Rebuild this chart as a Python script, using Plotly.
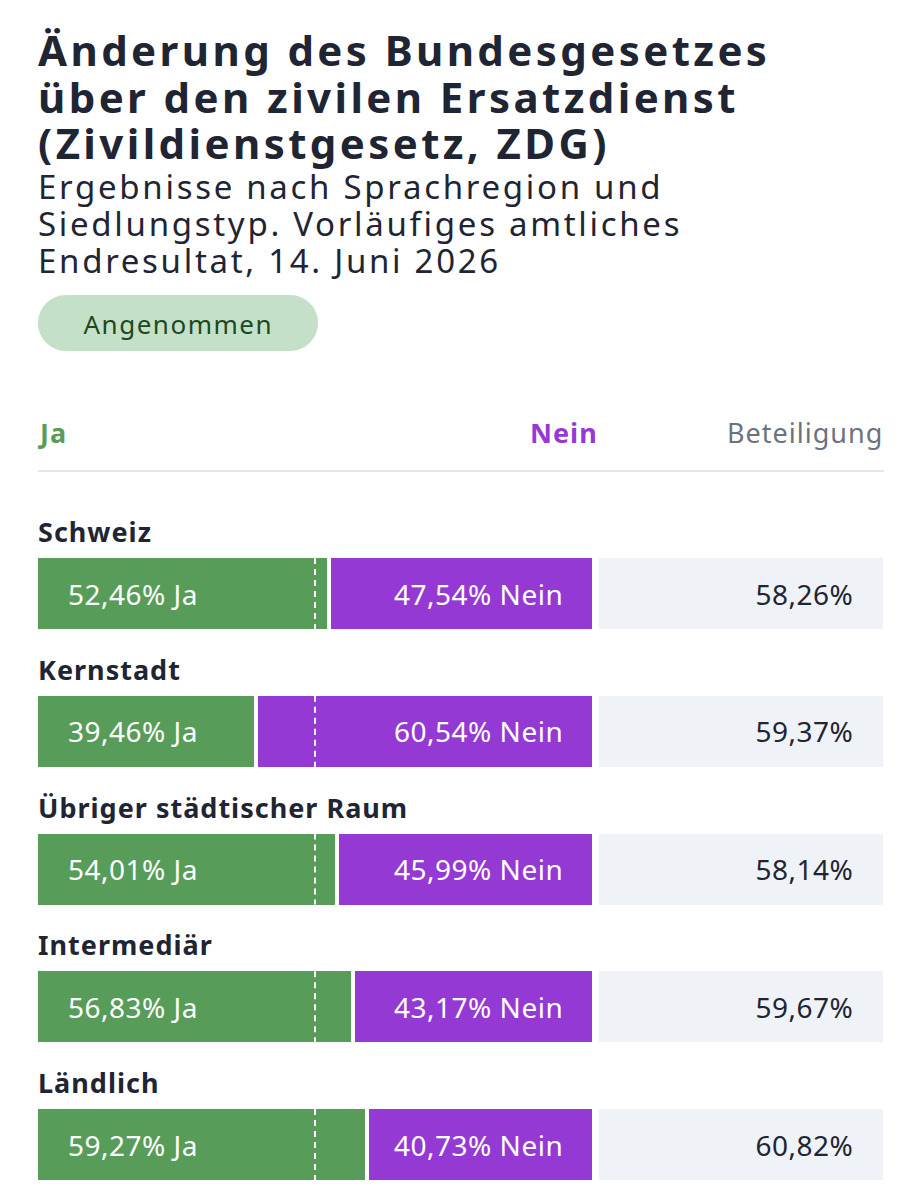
import json
import plotly.graph_objects as go

# Abstimmungsresultate nach Siedlungstyp
regions = ["Schweiz", "Kernstadt", "Übriger städtischer Raum", "Intermediär", "Ländlich"]
ja = [52.46, 39.46, 54.01, 56.83, 59.27]
nein = [47.54, 60.54, 45.99, 43.17, 40.73]
beteiligung = [58.26, 59.37, 58.14, 59.67, 60.82]

title_lines = ["Änderung des Bundesgesetzes", "über den zivilen Ersatzdienst", "(Zivildienstgesetz, ZDG)"]
subtitle_lines = ["Ergebnisse nach Sprachregion und", "Siedlungstyp. Vorläufiges amtliches", "Endresultat, 14. Juni 2026"]

W, H = 922, 1200
GREEN = "#579c59"
PURPLE = "#9539d5"
DARK = "#1f2533"
FONT = "Noto Sans"


def px(x):
    return x / W


def py(y):
    return 1 - y / H


def fmt(v):
    return f"{v:.2f}".replace(".", ",") + "%"


# rows: 137.75 px apart, first bar centred at y=593.5
pitch = 137.75
top_px = 490
y_top = -(593.5 - top_px) / pitch
y_bot = y_top + (H - top_px) / pitch

rows = list(range(len(regions)))

fig = go.Figure()
fig.add_trace(go.Bar(y=rows, x=ja, orientation="h", width=75 / pitch,
                     marker=dict(color=GREEN, line=dict(color="white", width=4)),
                     xaxis="x", yaxis="y", hoverinfo="skip"))
fig.add_trace(go.Bar(y=rows, x=nein, orientation="h", width=75 / pitch,
                     marker=dict(color=PURPLE, line=dict(color="white", width=4)),
                     xaxis="x", yaxis="y", hoverinfo="skip"))
fig.add_trace(go.Bar(y=rows, x=[100] * len(rows), orientation="h", width=71 / pitch,
                     marker=dict(color="#eff2f6", line=dict(width=0)),
                     xaxis="x2", yaxis="y", hoverinfo="skip"))

annotations = []
spacing = []  # letter spacing per annotation (px)


def note(spc, **kw):
    kw.setdefault("showarrow", False)
    kw.setdefault("yanchor", "middle")
    annotations.append(kw)
    spacing.append(spc)


for i, line in enumerate(title_lines):
    note(3.4, text=line, x=px(36), y=py(50 + i * 46.5), xref="paper", yref="paper", xanchor="left",
         font=dict(family=FONT, size=42, color=DARK, weight="bold"))
for i, line in enumerate(subtitle_lines):
    note(2.7, text=line, x=px(36), y=py(187 + i * 36.5), xref="paper", yref="paper", xanchor="left",
         font=dict(family=FONT, size=33, color=DARK))

note(1.5, text="Angenommen", x=px(178), y=py(324), xref="paper", yref="paper", xanchor="center",
     font=dict(family=FONT, size=26, color="#1c4a20"))

# header
note(1, text="<b>Ja</b>", x=px(36), y=py(432), xref="paper", yref="paper", xanchor="left",
     font=dict(family=FONT, size=27, color=GREEN))
note(1, text="<b>Nein</b>", x=px(599), y=py(432), xref="paper", yref="paper", xanchor="right",
     font=dict(family=FONT, size=27, color=PURPLE))
note(1, text="Beteiligung", x=px(884), y=py(432), xref="paper", yref="paper", xanchor="right",
     font=dict(family=FONT, size=27, color="#6b7280"))

for i, name in enumerate(regions):
    note(1, text=f"<b>{name}</b>", x=px(36), y=i, xref="paper", yref="y", xanchor="left", yshift=62,
         font=dict(family=FONT, size=27, color=DARK))
    note(0.5, text=f"{fmt(ja[i])} Ja", x=0, y=i, xref="x", yref="y", xanchor="left", xshift=30,
         font=dict(family=FONT, size=28, color="white"))
    note(0.5, text=f"{fmt(nein[i])} Nein", x=100, y=i, xref="x", yref="y", xanchor="right", xshift=-29,
         font=dict(family=FONT, size=28, color="white"))
    note(0.5, text=fmt(beteiligung[i]), x=100, y=i, xref="x2", yref="y", xanchor="right", xshift=-28,
         font=dict(family=FONT, size=28, color=DARK))

shapes = []
# 50%-Marke
for i in rows:
    shapes.append(dict(type="line", xref="x", yref="y", x0=50, x1=50,
                       y0=i - 71 / pitch / 2, y1=i + 71 / pitch / 2,
                       line=dict(color="white", width=2, dash="6px,5px"), layer="above"))

# header rule
shapes.append(dict(type="line", xref="paper", yref="paper", x0=px(38), x1=px(884),
                   y0=py(471), y1=py(471), line=dict(color="#e4e7ec", width=2)))


# pill badge "Angenommen"
def pill(x0, y0, x1, y1):
    r = (y1 - y0) / 2
    k = 0.5523 * r
    pts = [
        ("M", [(x0 + r, y0)]),
        ("L", [(x1 - r, y0)]),
        ("C", [(x1 - r + k, y0), (x1, y0 + r - k), (x1, y0 + r)]),
        ("C", [(x1, y0 + r + k), (x1 - r + k, y1), (x1 - r, y1)]),
        ("L", [(x0 + r, y1)]),
        ("C", [(x0 + r - k, y1), (x0, y0 + r + k), (x0, y0 + r)]),
        ("C", [(x0, y0 + r - k), (x0 + r - k, y0), (x0 + r, y0)]),
    ]
    path = ""
    for cmd, p in pts:
        path += cmd + " " + " ".join(f"{px(a):.5f},{py(b):.5f}" for a, b in p) + " "
    return path + "Z"


shapes.append(dict(type="path", xref="paper", yref="paper", path=pill(38, 295, 318, 351),
                   fillcolor="#c5e0c8", line=dict(width=0), layer="below"))

fig.update_layout(
    width=W, height=H,
    margin=dict(l=0, r=0, t=0, b=0),
    paper_bgcolor="white", plot_bgcolor="white",
    barmode="stack", bargap=0,
    showlegend=False,
    xaxis=dict(domain=[px(36), px(594)], range=[0, 100], visible=False, fixedrange=True),
    xaxis2=dict(domain=[px(599), px(883)], range=[0, 100], visible=False, anchor="y", fixedrange=True),
    yaxis=dict(domain=[0, py(top_px)], range=[y_bot, y_top], visible=False, fixedrange=True),
    annotations=annotations,
    shapes=shapes,
)

# the reference typesetting is slightly letter-spaced; keep each text on its anchor
post = """
document.body.style.margin = '0';
var gd = document.getElementById('{plot_id}');
var sp = SPACING;
gd.querySelectorAll('g.annotation').forEach(function (g) {
    var i = +g.getAttribute('data-index');
    var s = sp[i];
    var t = g.querySelector('text.annotation-text');
    if (!s || !t) { return; }
    var b0 = t.getBBox();
    t.style.letterSpacing = s + 'px';
    var b1 = t.getBBox();
    var a = gd.layout.annotations[i].xanchor;
    var dx = 0;
    if (a === 'left') { dx = b0.x - b1.x; }
    else if (a === 'right') { dx = (b0.x + b0.width) - (b1.x + b1.width) + s; }
    t.setAttribute('x', parseFloat(t.getAttribute('x') || 0) + dx);
});
""".replace("SPACING", json.dumps(spacing))

fig.write_html("out.html", config={"displayModeBar": False}, post_script=post)
